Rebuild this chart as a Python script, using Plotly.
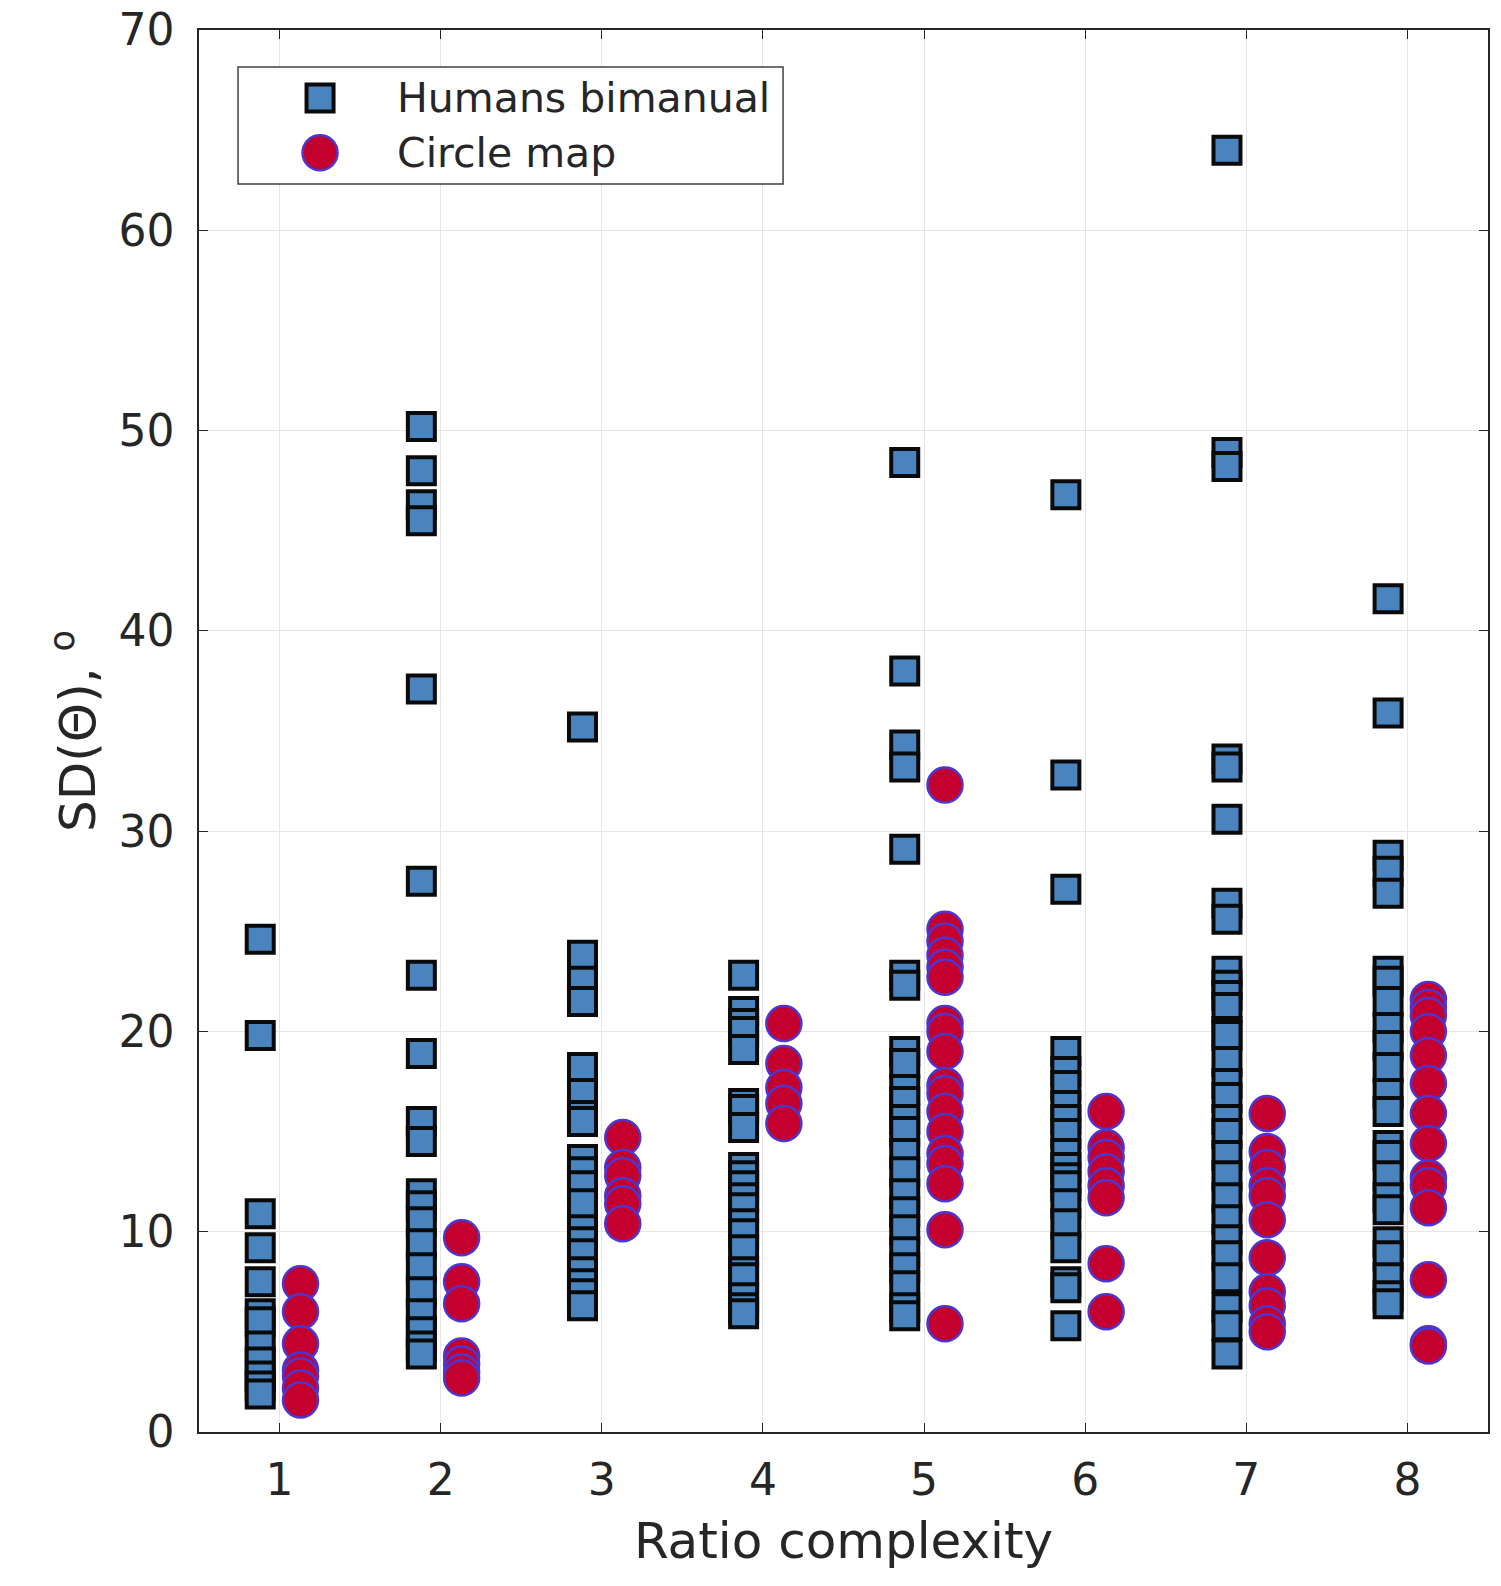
import plotly.graph_objects as go

categories = [1, 2, 3, 4, 5, 6, 7, 8]

humans = {
    1: [24.6, 19.8, 10.9, 9.2, 7.5, 5.9, 5.5, 4.3, 3.5, 2.8, 2.3, 1.9],
    2: [50.2, 48.0, 46.3, 45.5, 37.1, 27.5, 22.8, 18.9, 15.5, 14.5, 11.9, 11.3, 10.5, 9.4, 8.2, 7.0, 5.9, 5.0, 4.3, 3.9],
    3: [35.2, 23.8, 22.5, 21.5, 18.2, 16.9, 15.8, 15.5, 13.6, 13.0, 12.3, 11.4, 10.1, 9.5, 8.9, 8.0, 7.4, 6.9, 6.3],
    4: [22.8, 21.0, 20.4, 20.0, 19.1, 16.4, 16.1, 15.2, 13.2, 12.8, 12.3, 11.7, 11.2, 10.4, 9.9, 9.1, 8.0, 7.7, 6.7, 6.2, 5.9],
    5: [48.4, 38.0, 34.3, 33.2, 29.1, 22.8, 22.3, 19.0, 18.4, 17.1, 16.5, 15.6, 15.0, 13.9, 13.0, 11.9, 11.0, 10.1, 9.0, 8.2, 7.3, 6.2, 5.8],
    6: [46.8, 32.8, 27.1, 19.0, 18.0, 17.3, 16.3, 15.6, 14.9, 13.9, 13.2, 12.7, 12.3, 11.4, 10.4, 9.2, 7.5, 7.2, 5.3],
    7: [64.0, 48.9, 48.2, 33.6, 33.2, 30.6, 26.4, 25.6, 23.0, 22.3, 21.8, 21.2, 20.0, 19.8, 18.5, 17.4, 16.7, 15.6, 14.9, 13.8, 12.8, 11.7, 10.6, 9.6, 8.8, 7.7, 6.2, 5.3, 3.9],
    8: [41.6, 35.9, 28.8, 28.0, 26.9, 23.0, 22.5, 21.5, 20.2, 19.3, 18.2, 16.9, 16.0, 14.3, 13.8, 12.8, 11.7, 11.1, 9.5, 8.8, 7.7, 6.8, 6.4],
}

circle_map = {
    1: [7.4, 6.0, 4.4, 3.1, 2.8, 2.2, 1.6],
    2: [9.7, 7.5, 6.4, 3.8, 3.4, 3.0, 2.7],
    3: [14.7, 13.2, 12.8, 11.8, 11.4, 10.4],
    4: [20.4, 18.4, 17.2, 16.4, 15.4],
    5: [32.3, 25.1, 24.5, 23.8, 23.2, 22.7, 20.4, 20.0, 19.0, 17.3, 16.9, 16.0, 15.0, 13.9, 13.4, 12.4, 10.1, 5.4],
    6: [16.0, 14.2, 13.7, 13.0, 12.3, 11.7, 8.4, 6.0],
    7: [15.9, 14.0, 13.2, 12.3, 11.8, 10.6, 8.7, 7.0, 6.3, 5.4, 5.0],
    8: [21.6, 21.2, 20.8, 20.0, 18.8, 17.4, 15.9, 14.4, 12.7, 12.3, 11.2, 7.6, 4.4, 4.3],
}

series_names = ["Humans bimanual", "Circle map"]
x_ticks = [1, 2, 3, 4, 5, 6, 7, 8]
y_ticks = [0, 10, 20, 30, 40, 50, 60, 70]

HUMAN_OFFSET = -0.12
CIRCLE_OFFSET = 0.13

hx, hy, cx, cy = [], [], [], []
for c in categories:
    for v in humans[c]:
        hx.append(c + HUMAN_OFFSET)
        hy.append(v)
    for v in circle_map[c]:
        cx.append(c + CIRCLE_OFFSET)
        cy.append(v)

FONT = "DejaVu Sans"
TXT = "#262626"
SQ_FILL, SQ_LINE = "#4A84BE", "#0A0A0A"
CI_FILL, CI_LINE = "#C4002E", "#5035CC"

fig = go.Figure()
fig.add_trace(go.Scatter(
    x=hx, y=hy, mode="markers", name=series_names[0],
    marker=dict(symbol="square", size=27, color=SQ_FILL,
                line=dict(color=SQ_LINE, width=4)),
))
fig.add_trace(go.Scatter(
    x=cx, y=cy, mode="markers", name=series_names[1],
    marker=dict(symbol="circle", size=35, color=CI_FILL,
                line=dict(color=CI_LINE, width=2.5)),
))

axis_common = dict(
    showline=True, linecolor=TXT, linewidth=1.5, mirror="allticks",
    ticks="inside", ticklen=9, tickwidth=1.2, tickcolor=TXT,
    showgrid=True, gridcolor="#E6E6E6", gridwidth=1.2,
    zeroline=False, automargin=False,
    tickfont=dict(family=FONT, size=44, color=TXT),
)

# Custom legend (box, enlarged symbols, labels) in paper coordinates
LEG_X0, LEG_X1, LEG_Y0, LEG_Y1 = 0.0303, 0.4531, 0.8902, 0.9736
SYM_X = 0.0939
TXT_X = 0.152
ROW_Y = [0.9515, 0.9125]

shapes = [
    dict(type="rect", xref="paper", yref="paper", x0=LEG_X0, x1=LEG_X1, y0=LEG_Y0, y1=LEG_Y1,
         line=dict(color="#404040", width=1.5), fillcolor="white", layer="above"),
    dict(type="rect", xref="paper", yref="paper", xsizemode="pixel", ysizemode="pixel",
         xanchor=SYM_X, yanchor=ROW_Y[0], x0=-13.5, x1=13.5, y0=-13.5, y1=13.5,
         line=dict(color=SQ_LINE, width=4), fillcolor=SQ_FILL, layer="above"),
    dict(type="circle", xref="paper", yref="paper", xsizemode="pixel", ysizemode="pixel",
         xanchor=SYM_X, yanchor=ROW_Y[1], x0=-17.5, x1=17.5, y0=-17.5, y1=17.5,
         line=dict(color=CI_LINE, width=2.5), fillcolor=CI_FILL, layer="above"),
]
annotations = [
    dict(text=series_names[i], x=TXT_X, y=ROW_Y[i], xref="paper", yref="paper",
         xanchor="left", yanchor="middle", showarrow=False,
         font=dict(family=FONT, size=41, color=TXT))
    for i in range(2)
]

fig.update_layout(
    width=1501, height=1586,
    margin=dict(l=199, r=13, t=30, b=154),
    paper_bgcolor="white", plot_bgcolor="white",
    font=dict(family=FONT, color=TXT),
    showlegend=False,
    shapes=shapes, annotations=annotations,
    xaxis=dict(range=[0.5, 8.5], tickvals=x_ticks, ticktext=[str(t) for t in x_ticks],
               title=dict(text="Ratio complexity", font=dict(family=FONT, size=50, color=TXT), standoff=19),
               ticklabelstandoff=8, **axis_common),
    yaxis=dict(range=[0, 70], tickvals=y_ticks, ticktext=[str(t) for t in y_ticks],
               title=dict(text="SD(Θ), <sup>o</sup>", font=dict(family=FONT, size=50, color=TXT), standoff=7),
               ticklabelstandoff=14, **axis_common),
)

fig.write_html("out.html")
